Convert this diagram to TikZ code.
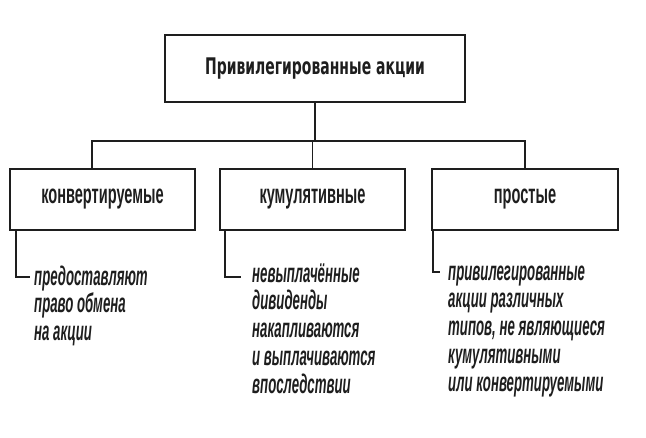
\documentclass[tikz,border=0pt]{standalone}
\usepackage{fontspec}
\setmainfont{Liberation Sans}
\newfontfamily\titlefont[FakeStretch=0.61]{DejaVu Sans}
\newfontfamily\boxfont[FakeStretch=0.54]{Liberation Sans}
\newfontfamily\notefont[FakeStretch=0.49]{Liberation Sans}
\definecolor{ink}{HTML}{1E1E1E}
\tikzset{
  x=1pt, y=1pt,
  topbox/.style={draw=ink, line width=2.2pt, minimum width=300pt, minimum height=67pt, inner sep=0pt,
    font=\titlefont\bfseries\fontsize{22.9}{26}\selectfont, text=ink},
  catbox/.style={draw=ink, line width=2pt, minimum height=61pt, inner sep=0pt,
    font=\boxfont\bfseries\fontsize{27}{30}\selectfont, text=ink},
  notetext/.style={anchor=base west, inner sep=0pt, text=ink},
  conn/.style={draw=ink, line width=1.2pt},
}
\newcommand{\notepar}[1]{\parbox[t]{200pt}{\notefont\bfseries\itshape\fontsize{27}{27.8}\selectfont\raggedright #1}}
\begin{document}
\begin{tikzpicture}
\useasboundingbox (0,0) rectangle (646,-437);
\fill[white] (0,0) rectangle (646,-437);
% top box
\node[topbox] (top) at (315,-68.5) {Привилегированные акции};
% category boxes
\node[catbox, minimum width=185pt] (b1) at (102.5,-199.5) {конвертируемые};
\node[catbox, minimum width=185pt] (b2) at (312.5,-199.5) {кумулятивные};
\node[catbox, minimum width=186pt] (b3) at (525,-199.5) {простые};
% bus
\coordinate (bus) at (312,-141);
\coordinate (s1) at (92,-169);
\draw[conn] (bus -| top.south) -- (top.south);
\draw[conn] (s1) |- (bus -| b3.north) -- (b3.north);
\draw[conn] (bus -| b2.north) -- (b2.north);
% notes
\node[notetext] (t1) at (34,-285) {\notepar{предоставляют\\право обмена\\на акции}};
\node[notetext] (t2) at (252,-282) {\notepar{невыплачённые\\дивиденды\\накапливаются\\и выплачиваются\\впоследствии}};
\node[notetext] (t3) at (448,-280) {\notepar{привилегированные\\акции различных\\типов, не являющиеся\\кумулятивными\\или конвертируемыми}};
\draw[conn] ([xshift=7pt]b1.south west) |- ([xshift=-4pt,yshift=8pt]t1.base west);
\draw[conn] ([xshift=6pt]b2.south west) |- ([xshift=-11pt,yshift=5pt]t2.base west);
\draw[conn] ([xshift=2pt]b3.south west) |- ([xshift=-8pt,yshift=8pt]t3.base west);
\end{tikzpicture}
\end{document}
